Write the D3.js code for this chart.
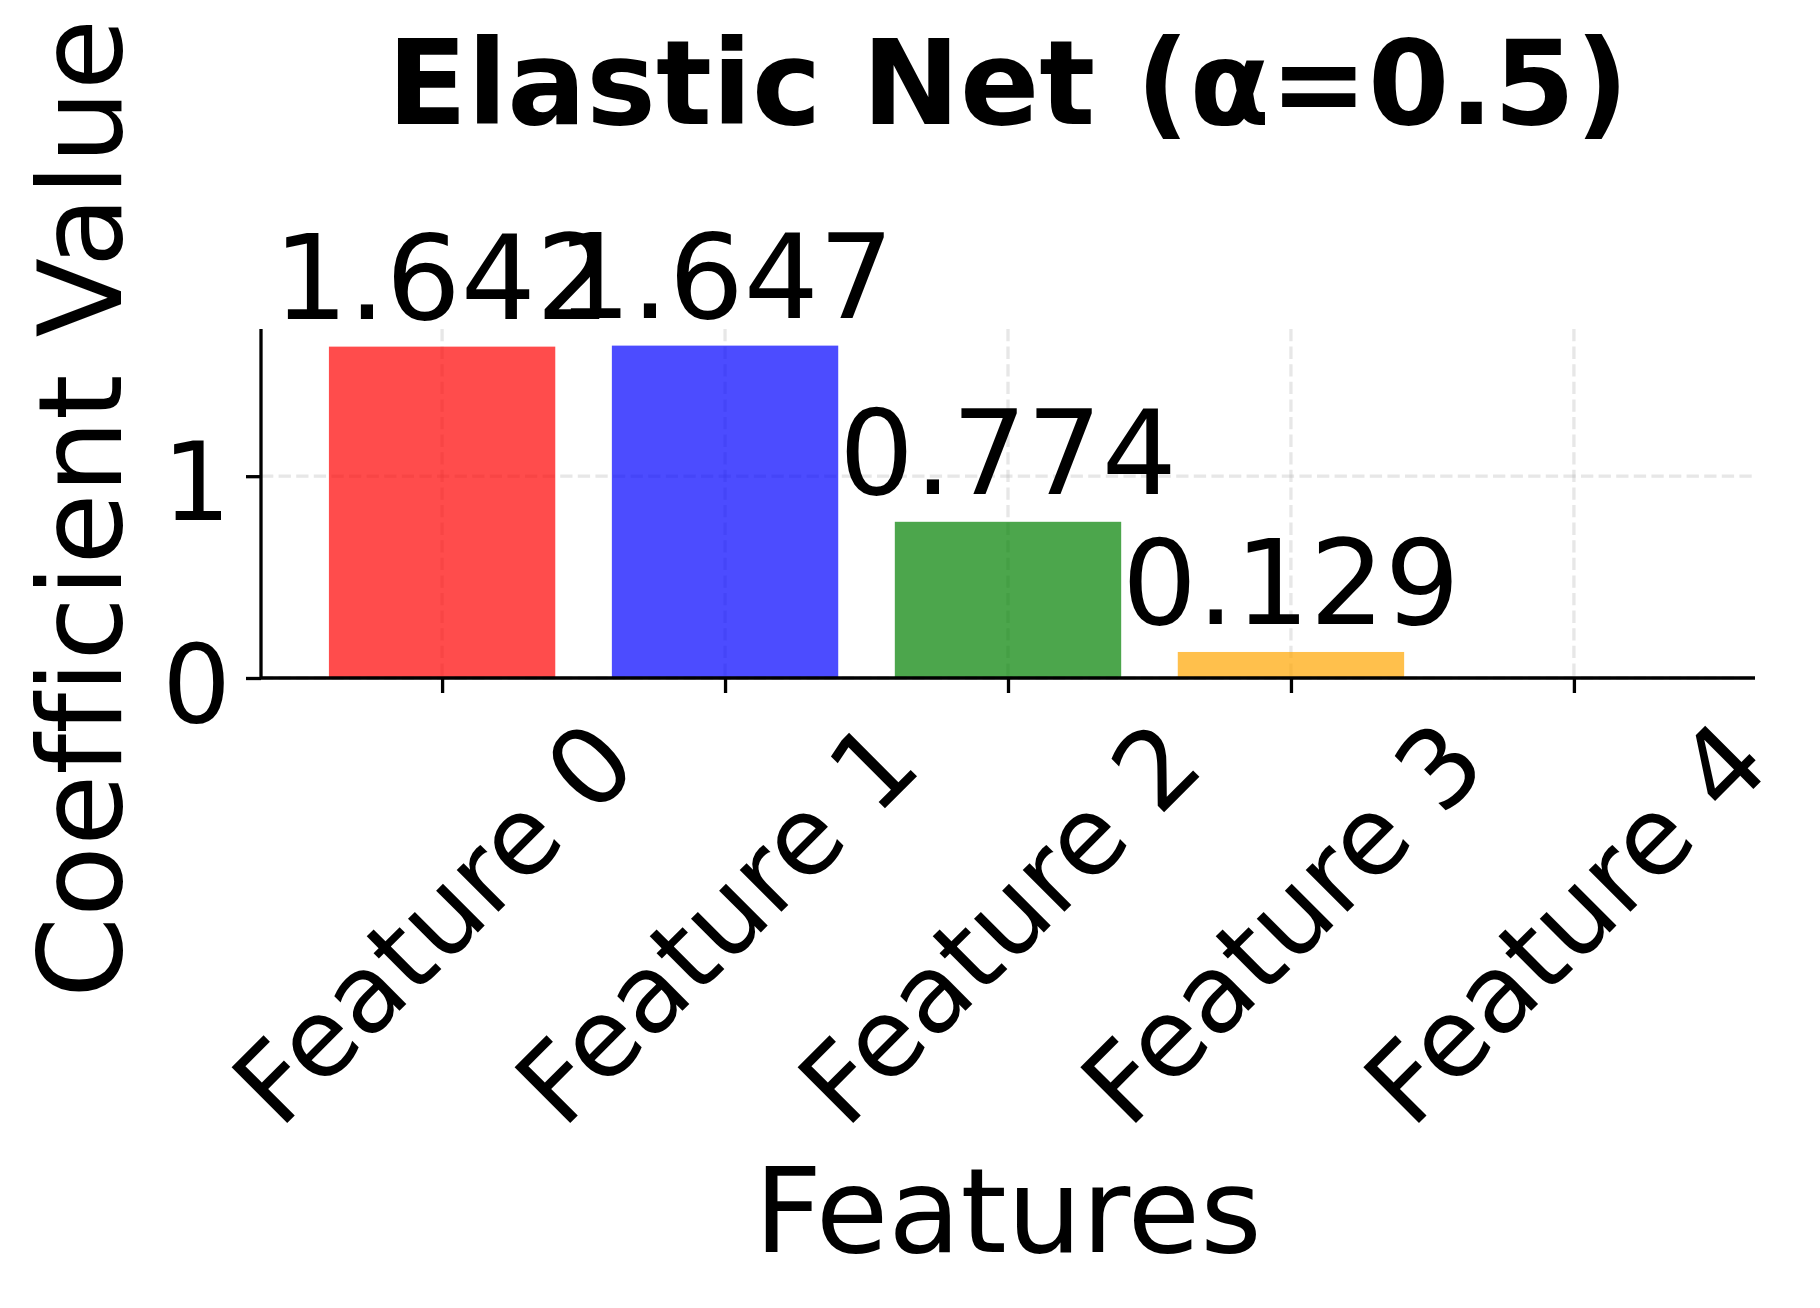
<!DOCTYPE html>
<html>
<head>
<meta charset="utf-8">
<script src="https://cdn.jsdelivr.net/npm/d3@7"></script>
<style>
  body { margin: 0; background: #fff; }
  text { font-family: "DejaVu Sans", sans-serif; fill: #000; font-variant-ligatures: none; font-feature-settings: "liga" 0; }
</style>
</head>
<body>
<div id="chart"></div>
<script>
// chart data
var features = ["Feature 0", "Feature 1", "Feature 2", "Feature 3", "Feature 4"];
var coefficients = [1.642, 1.647, 0.774, 0.129, 0.0];
var barColors = ["red", "blue", "green", "orange", "purple"];
var yTicks = [0, 1];
var chartTitle = "Elastic Net (\u03b1=0.5)";
var xLabel = "Features";
var yLabel = "Coefficient Value";

var svgWidth = 1820;
var svgHeight = 1308;

var margin = {
  top: 329,
  right: 65,
  bottom: 630,
  left: 261
};

var width = svgWidth - margin.left - margin.right;
var height = svgHeight - margin.top - margin.bottom;

var svg = d3
  .select("#chart")
  .append("svg")
  .attr("width", svgWidth)
  .attr("height", svgHeight);

var chartGroup = svg.append("g")
  .attr("transform", `translate(${margin.left}, ${margin.top})`);

// matplotlib style limits: bars are 0.8 wide, 5% margins
var idx = d3.range(features.length);
var xScale = d3.scaleLinear()
  .domain([-0.4 - 0.05 * (features.length - 0.2), features.length - 0.6 + 0.05 * (features.length - 0.2)])
  .range([0, width]);

var yScale = d3.scaleLinear()
  .domain([0, d3.max(coefficients) * 1.05])
  .range([height, 0]);

// grid
chartGroup.append("g")
  .selectAll("line")
  .data(idx)
  .enter()
  .append("line")
  .attr("x1", d => xScale(d))
  .attr("x2", d => xScale(d))
  .attr("y1", 0)
  .attr("y2", height)
  .attr("stroke", "#b0b0b0")
  .attr("stroke-opacity", 0.3)
  .attr("stroke-width", 3.3)
  .attr("stroke-dasharray", "12.3,5.3");

chartGroup.append("g")
  .selectAll("line")
  .data(yTicks)
  .enter()
  .append("line")
  .attr("x1", 0)
  .attr("x2", width)
  .attr("y1", d => yScale(d))
  .attr("y2", d => yScale(d))
  .attr("stroke", "#b0b0b0")
  .attr("stroke-opacity", 0.3)
  .attr("stroke-width", 3.3)
  .attr("stroke-dasharray", "12.3,5.3");

// bars
chartGroup.selectAll("rect.bar")
  .data(idx)
  .enter()
  .append("rect")
  .attr("class", "bar")
  .attr("x", d => xScale(d - 0.4))
  .attr("width", d => xScale(0.8) - xScale(0))
  .attr("y", d => yScale(coefficients[d]))
  .attr("height", d => yScale(0) - yScale(coefficients[d]))
  .attr("fill", d => barColors[d])
  .attr("fill-opacity", 0.7);

// value labels (skip zero coefficients)
chartGroup.selectAll("text.value")
  .data(idx.filter(d => Math.abs(coefficients[d]) > 0.001))
  .enter()
  .append("text")
  .attr("class", "value")
  .attr("x", d => xScale(d))
  .attr("y", d => yScale(coefficients[d]) - 28)
  .attr("text-anchor", "middle")
  .attr("font-size", "118px")
  .text(d => coefficients[d].toFixed(3));

// x axis
var bottomAxis = d3.axisBottom(xScale)
  .tickValues(idx)
  .tickSize(15)
  .tickPadding(15)
  .tickFormat(d => features[d]);

var xAxis = chartGroup.append("g")
  .attr("transform", `translate(0, ${height})`)
  .call(bottomAxis);

xAxis.select(".domain").remove();
xAxis.selectAll(".tick line")
  .attr("stroke", "#000")
  .attr("stroke-width", 3.3);

xAxis.selectAll(".tick text")
  .attr("font-size", "108px")
  .attr("text-anchor", "middle")
  .attr("dy", "0.365em")
  .attr("y", 0)
  .attr("transform", "translate(-10, 244) rotate(-45)");

// y axis
var leftAxis = d3.axisLeft(yScale)
  .tickValues(yTicks)
  .tickSize(15)
  .tickPadding(15)
  .tickFormat(d3.format("d"));

var yAxis = chartGroup.append("g")
  .call(leftAxis);

yAxis.select(".domain").remove();
yAxis.selectAll(".tick line")
  .attr("stroke", "#000")
  .attr("stroke-width", 3.3);
yAxis.selectAll(".tick text")
  .attr("font-size", "108px")
  .attr("dy", 43);

// spines (left and bottom only)
chartGroup.append("line")
  .attr("x1", 0)
  .attr("x2", 0)
  .attr("y1", 0)
  .attr("y2", height)
  .attr("stroke", "#000")
  .attr("stroke-width", 3.3);

chartGroup.append("line")
  .attr("x1", 0)
  .attr("x2", width)
  .attr("y1", height)
  .attr("y2", height)
  .attr("stroke", "#000")
  .attr("stroke-width", 3.3);

// title
svg.append("text")
  .attr("x", margin.left + width / 2)
  .attr("y", 124)
  .attr("text-anchor", "middle")
  .attr("font-size", "117px")
  .attr("font-weight", "bold")
  .text(chartTitle);

// axis labels
svg.append("text")
  .attr("x", margin.left + width / 2)
  .attr("y", 1252)
  .attr("text-anchor", "middle")
  .attr("font-size", "118px")
  .text(xLabel);

svg.append("text")
  .attr("transform", `translate(121, ${margin.top + height / 2 + 5}) rotate(-90)`)
  .attr("text-anchor", "middle")
  .attr("font-size", "116px")
  .text(yLabel);
</script>
</body>
</html>
